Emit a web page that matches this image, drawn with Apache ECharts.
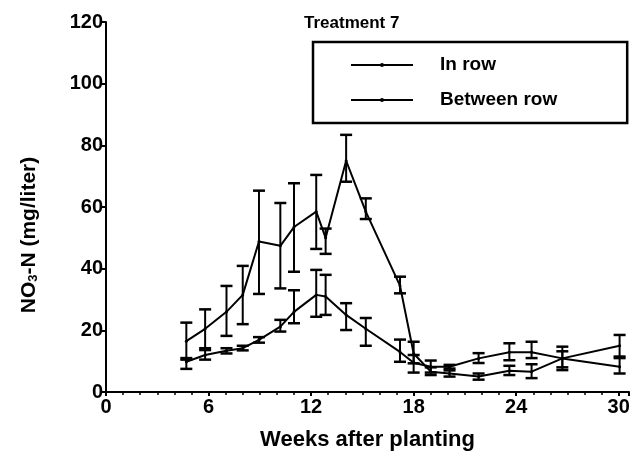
<!DOCTYPE html>
<html>
<head>
<meta charset="utf-8">
<script src="https://cdn.jsdelivr.net/npm/echarts@6/dist/echarts.min.js"></script>
<style>html,body{margin:0;padding:0;background:#fff;}#c{width:633px;height:463px;}</style>
</head>
<body>
<div id="c"></div>
<script>
// Weeks after planting (shared sampling times)
var weeks = [4.7, 5.8, 7.05, 8.0, 8.95, 10.2, 11.0, 12.3, 12.85, 14.05, 15.2, 17.2, 18.0, 19.0, 20.1, 21.8, 23.6, 24.9, 26.7, 30.05];
// In row NO3-N (mg/liter)
var inRow    = [16.5, 20.5, 26, 31.5, 48.8, 47.4, 53.5, 58.5, 50, 75, 58.5, 34.5, 12.5, 6.6, 6, 5, 6.9, 6.6, 10.9, 15];
var inRowHi  = [22.5, 26.8, 34.4, 40.9, 65.3, 61.3, 67.7, 70.4, 53, 83.4, 62.8, 37.4, 16.3, 8, 7, 6, 8.5, 9, 13.2, 18.5];
var inRowLo  = [10.5, 14.2, 18.2, 22, 31.8, 33.6, 39, 46.4, 44.8, 68.2, 56.1, 32, 9.3, 5.5, 5, 4, 5.5, 4.5, 7.1, 11.5];
// Between row NO3-N (mg/liter)
var betRow   = [9.8, 12, 13.4, 14.2, 16.9, 21.2, 26, 31.5, 31, 25, 20.5, 13, 9.5, 8.2, 8.2, 10.9, 12.9, 12.9, 10.9, 8.2];
var betRowHi = [11, 13.6, 14.2, 15, 17.8, 23.4, 33, 39.6, 38, 28.8, 24, 17, 12, 10.2, 8.8, 12.6, 15.8, 16.3, 14.7, 11];
var betRowLo = [7.5, 10.5, 12.5, 13.5, 16, 19.6, 22.3, 24.4, 25, 20.1, 15, 9.8, 6.3, 6.3, 7.6, 9.4, 10.3, 11, 8, 6];
var xTicks = [0, 6, 12, 18, 24, 30];
var yTicks = [0, 20, 40, 60, 80, 100, 120];

function pairs(xs, ys) { return xs.map(function (x, i) { return [x, ys[i]]; }); }
function bars(xs, lo, hi) { return xs.map(function (x, i) { return [x, lo[i], hi[i]]; }); }

function renderErr(params, api) {
  var x = api.value(0), lo = api.value(1), hi = api.value(2);
  var p1 = api.coord([x, hi]), p2 = api.coord([x, lo]);
  var w = 6;
  var st = { stroke: '#000', lineWidth: 2 };
  var cap = { stroke: '#000', lineWidth: 2.5 };
  return {
    type: 'group',
    children: [
      { type: 'line', shape: { x1: p1[0], y1: p1[1], x2: p2[0], y2: p2[1] }, style: st },
      { type: 'line', shape: { x1: p1[0] - w, y1: p1[1], x2: p1[0] + w, y2: p1[1] }, style: cap },
      { type: 'line', shape: { x1: p2[0] - w, y1: p2[1], x2: p2[0] + w, y2: p2[1] }, style: cap }
    ]
  };
}

var font = 'Liberation Sans, Arial, sans-serif';
var chart = echarts.init(document.getElementById('c'), null, { renderer: 'canvas' });
chart.setOption({
  animation: false,
  textStyle: { fontFamily: font, color: '#000' },
  title: {
    text: 'Treatment 7', left: 299, top: 10,
    textStyle: { fontFamily: font, fontSize: 17, fontWeight: 'bold', color: '#000' }
  },
  legend: {
    left: 313, top: 42, orient: 'vertical',
    data: ['In row', 'Between row'],
    borderColor: '#000', borderWidth: 2.5,
    padding: [13, 70, 13, 37],
    itemWidth: 62, itemHeight: 5, itemGap: 15,
    textStyle: { fontFamily: font, fontSize: 19, fontWeight: 'bold', color: '#000', padding: [0, 0, 0, 22], lineHeight: 20 }
  },
  grid: { left: 106, right: 4, top: 22, bottom: 71 },
  xAxis: {
    type: 'value', min: 0, max: 30.6, interval: 6,
    name: 'Weeks after planting', nameLocation: 'middle', nameGap: 37,
    nameTextStyle: { fontFamily: font, fontSize: 22, fontWeight: 'bold', color: '#000' },
    axisLine: { lineStyle: { color: '#000', width: 2 } },
    axisTick: { length: 4, lineStyle: { color: '#000', width: 2 } },
    minorTick: { show: true, splitNumber: 6, length: 3, lineStyle: { color: '#000', width: 1.5 } },
    splitLine: { show: false },
    axisLabel: {
      fontFamily: font, fontSize: 20, fontWeight: 'bold', color: '#000', margin: 5,
      formatter: function (v) { return xTicks.indexOf(v) >= 0 ? String(v) : ''; }
    }
  },
  yAxis: {
    type: 'value', min: 0, max: 120, interval: 20,
    name: '{a|NO}{s|3}{a|-N (mg/liter)}', nameLocation: 'middle', nameGap: 66, nameRotate: 90,
    nameTextStyle: {
      fontFamily: font, color: '#000', padding: [0, 56, 0, 0],
      rich: {
        a: { fontFamily: font, fontSize: 21, fontWeight: 'bold', color: '#000', lineHeight: 26, verticalAlign: 'bottom' },
        s: { fontFamily: font, fontSize: 13, fontWeight: 'bold', color: '#000', lineHeight: 26, verticalAlign: 'bottom', padding: [10, 0, 0, 0] }
      }
    },
    axisLine: { show: true, lineStyle: { color: '#000', width: 2 } },
    axisTick: { show: true, length: 5, lineStyle: { color: '#000', width: 2 } },
    splitLine: { show: false },
    axisLabel: {
      fontFamily: font, fontSize: 20, fontWeight: 'bold', color: '#000', margin: 3,
      formatter: function (v) { return yTicks.indexOf(v) >= 0 ? String(v) : ''; }
    }
  },
  series: [
    {
      name: 'In row', type: 'line', data: pairs(weeks, inRow),
      lineStyle: { color: '#000', width: 2 }, itemStyle: { color: '#000' },
      symbol: 'circle', symbolSize: 3, z: 3
    },
    {
      name: 'Between row', type: 'line', data: pairs(weeks, betRow),
      lineStyle: { color: '#000', width: 2 }, itemStyle: { color: '#000' },
      symbol: 'circle', symbolSize: 3, z: 3
    },
    {
      name: 'In row err', type: 'custom', renderItem: renderErr,
      data: bars(weeks, inRowLo, inRowHi), encode: { x: 0, y: [1, 2] }, z: 4
    },
    {
      name: 'Between row err', type: 'custom', renderItem: renderErr,
      data: bars(weeks, betRowLo, betRowHi), encode: { x: 0, y: [1, 2] }, z: 4
    }
  ]
});
</script>
</body>
</html>
